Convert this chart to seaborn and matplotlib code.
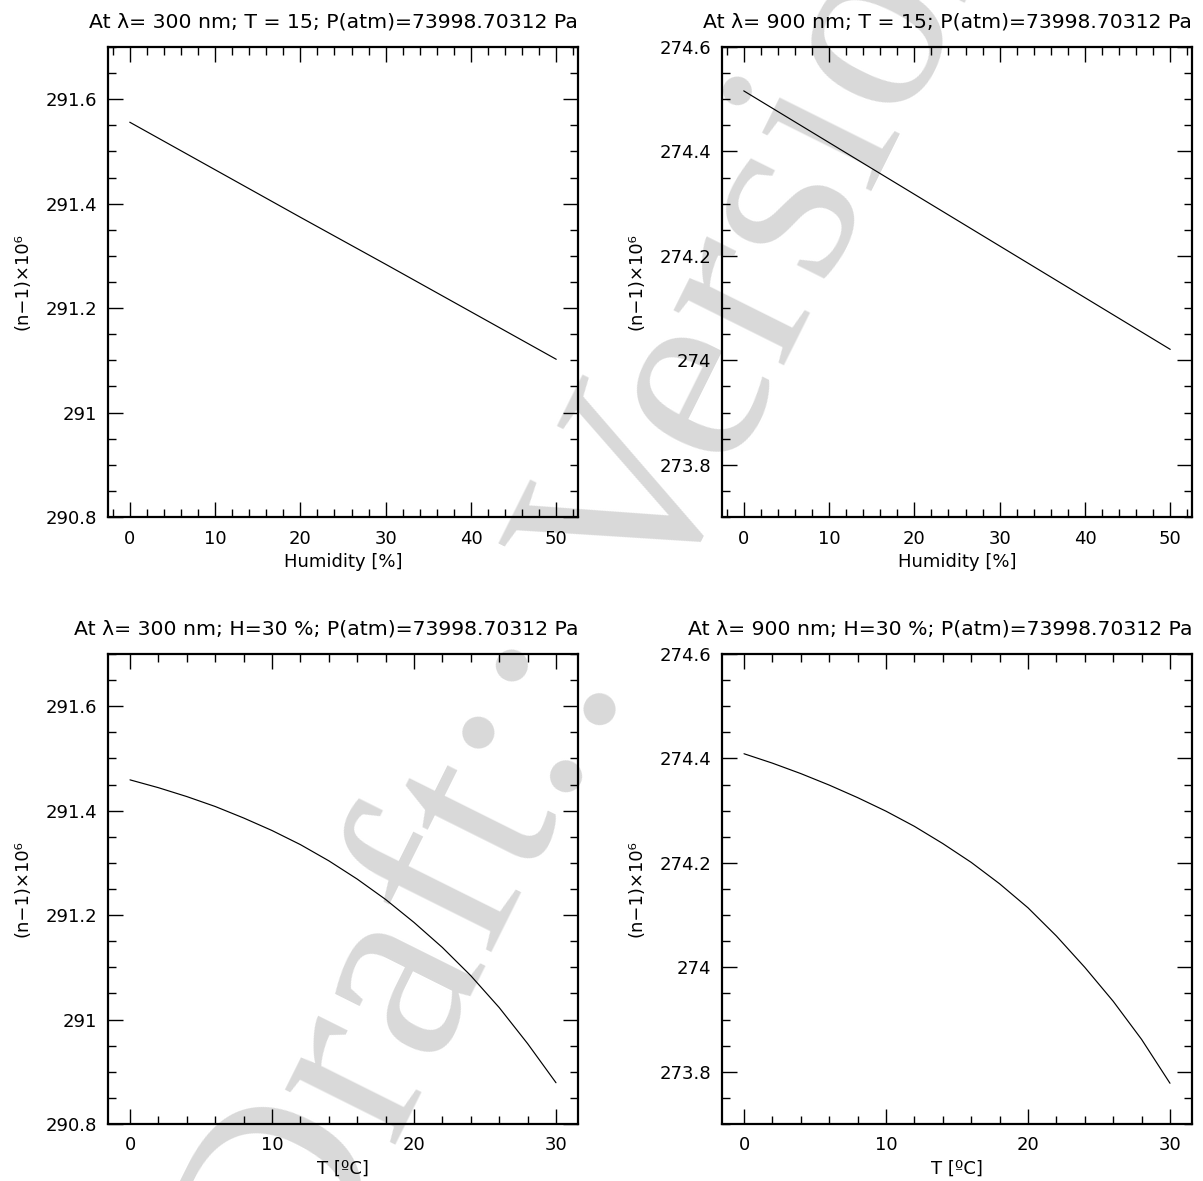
import numpy as np
import pandas as pd
import matplotlib
matplotlib.use("Agg")
import matplotlib.pyplot as plt
import seaborn as sns
from matplotlib.ticker import MultipleLocator, FuncFormatter

# ---------------- data ----------------
humidity = [0, 10, 20, 30, 40, 50]
n300_vs_humidity = [291.556, 291.465, 291.374, 291.284, 291.193, 291.102]
n900_vs_humidity = [274.516, 274.417, 274.318, 274.219, 274.120, 274.021]

temperature = [0, 2, 4, 6, 8, 10, 12, 14, 16, 18, 20, 22, 24, 26, 28, 30]
n300_vs_temperature = [291.459, 291.444, 291.427, 291.408, 291.386, 291.362,
                       291.335, 291.304, 291.269, 291.230, 291.186, 291.138,
                       291.084, 291.023, 290.954, 290.879]
n900_vs_temperature = [274.409, 274.391, 274.371, 274.349, 274.325, 274.299,
                       274.270, 274.237, 274.201, 274.160, 274.114, 274.060,
                       274.000, 273.935, 273.862, 273.778]

titles = [
    "At λ= 300 nm; T = 15; P(atm)=73998.70312 Pa",
    "At λ= 900 nm; T = 15; P(atm)=73998.70312 Pa",
    "At λ= 300 nm; H=30 %; P(atm)=73998.70312 Pa",
    "At λ= 900 nm; H=30 %; P(atm)=73998.70312 Pa",
]
xlabels = ["Humidity [%]", "Humidity [%]", "T [ºC]", "T [ºC]"]
ylabel = "(n−1)×10⁶"
watermark = "Draft:: Version"

# ---------------- figure ----------------
sns.set_theme(style="ticks")
plt.rcParams["font.family"] = ["DejaVu Sans"]

W, H = 1203, 1181
fig = plt.figure(figsize=(W / 100, H / 100), dpi=100)
fig.patch.set_facecolor("white")

def box(l, t, r, b):
    return [l / W, 1 - b / H, (r - l) / W, (b - t) / H]

axes = [
    fig.add_axes(box(108, 47, 578, 517)),
    fig.add_axes(box(722, 47, 1192, 517)),
    fig.add_axes(box(108, 654, 578, 1124)),
    fig.add_axes(box(722, 654, 1192, 1124)),
]

frames = [
    pd.DataFrame({"x": humidity, "y": n300_vs_humidity}),
    pd.DataFrame({"x": humidity, "y": n900_vs_humidity}),
    pd.DataFrame({"x": temperature, "y": n300_vs_temperature}),
    pd.DataFrame({"x": temperature, "y": n900_vs_temperature}),
]
xlims = [(-2.55, 52.55), (-2.55, 52.55), (-1.55, 31.55), (-1.55, 31.55)]
ylims = [(290.8, 291.7), (273.7, 274.6), (290.8, 291.7), (273.7, 274.6)]

fmt = FuncFormatter(lambda v, p: ("%.1f" % v).rstrip("0").rstrip("."))

for ax, df, title, xl, xlim, ylim in zip(axes, frames, titles, xlabels,
                                         xlims, ylims):
    ax.set_facecolor("none")
    sns.lineplot(data=df, x="x", y="y", ax=ax, color="black", linewidth=0.85)
    ax.set_xlim(*xlim)
    ax.set_ylim(*ylim)
    ax.xaxis.set_major_locator(MultipleLocator(10))
    ax.xaxis.set_minor_locator(MultipleLocator(2))
    ax.yaxis.set_major_locator(MultipleLocator(0.2))
    ax.yaxis.set_minor_locator(MultipleLocator(0.05))
    ax.yaxis.set_major_formatter(fmt)
    ax.tick_params(which="both", direction="in", top=True, right=True,
                   colors="black", labelsize=13)
    ax.tick_params(which="major", length=11, width=1.0)
    ax.tick_params(which="minor", length=5.5, width=1.0)
    ax.tick_params(axis="x", which="major", pad=9)
    ax.tick_params(axis="y", which="major", pad=8)
    for s in ax.spines.values():
        s.set_linewidth(1.6)
        s.set_color("black")
    ax.set_xlabel(xl, fontsize=13, labelpad=4, color="black")
    ax.set_ylabel(ylabel, fontsize=13, labelpad=10, color="black")
    ax.set_title(title, loc="right", fontsize=14.7, pad=14, color="black")

fig.text(665 / W, 1 - 605 / H, watermark, rotation=63.5,
         rotation_mode="anchor", fontsize=194,
         family=["Liberation Serif", "DejaVu Serif"], color="#d9d9d9",
         ha="center", va="baseline", zorder=-5)

fig.savefig("out.png", dpi=100, facecolor="white")
